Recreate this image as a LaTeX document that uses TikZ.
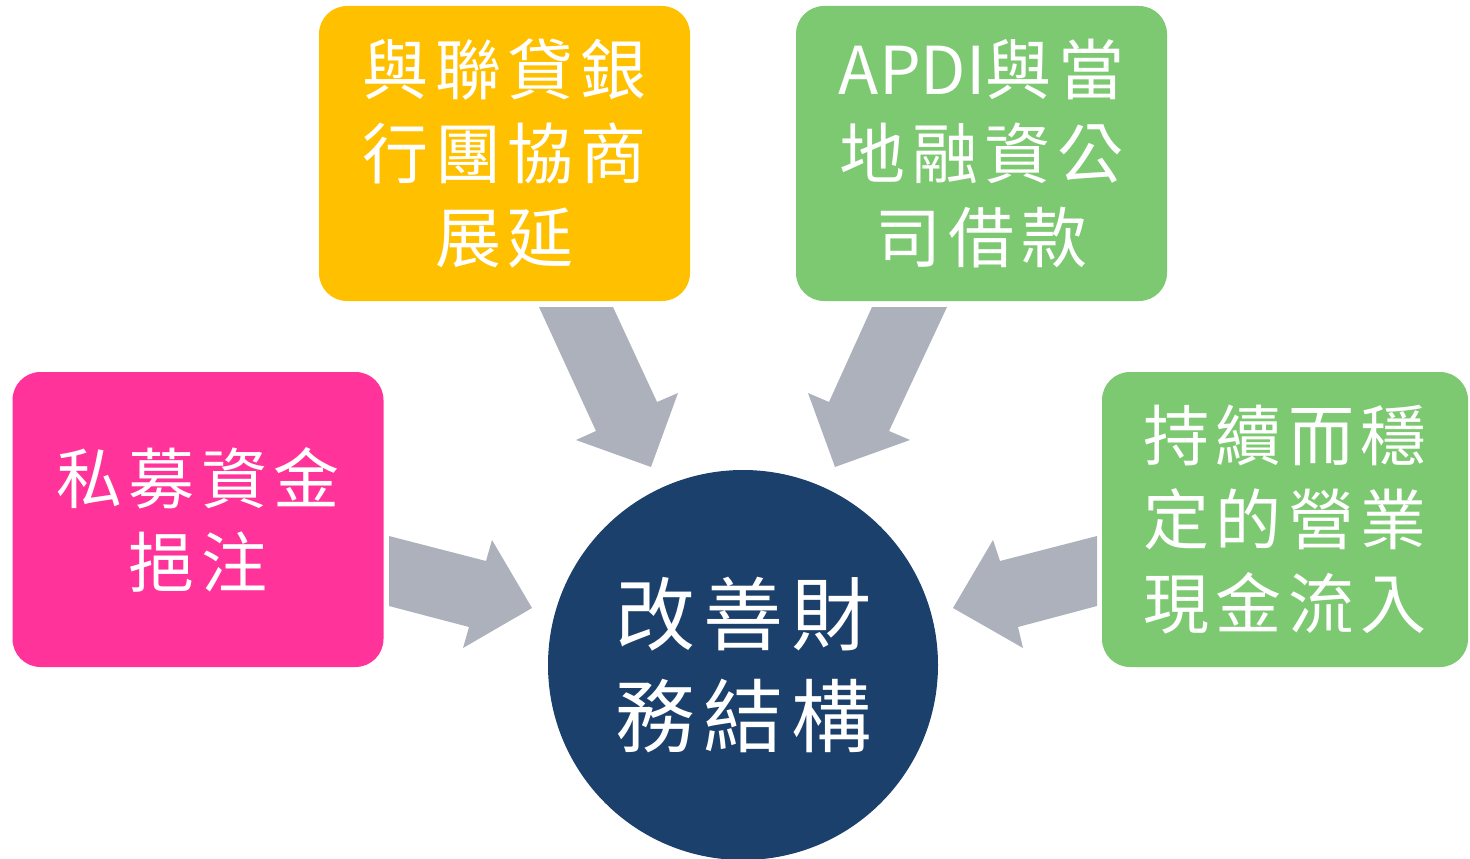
\documentclass[tikz,border=0pt]{standalone}
\usepackage{fontspec}
\newfontfamily\cjk[LetterSpace=10]{Noto Sans CJK TC}
\usetikzlibrary{positioning}
\definecolor{boxpink}{HTML}{FF3399}
\definecolor{boxyellow}{HTML}{FFC000}
\definecolor{boxgreen}{HTML}{7DC971}
\definecolor{hubblue}{HTML}{1B406C}
\definecolor{arrowgray}{HTML}{ADB1BC}
\tikzset{
  box/.style={rectangle, rounded corners=28pt, minimum width=371pt, minimum height=295pt,
    inner sep=0pt, align=center, text=white, font=\cjk\fontsize{66}{84}\selectfont},
  hub/.style={circle, fill=hubblue, minimum size=390pt, inner sep=0pt, align=center,
    text=white, font=\cjk\fontsize{80}{102}\selectfont},
  blockarrow/.style={fill=arrowgray}
}
\begin{document}
\begin{tikzpicture}[x=1pt, y=-1pt]
  \useasboundingbox (0,0) rectangle (1470,859);
  % boxes
  \node[box, fill=boxpink] (funding) at (198,519.5) {私募資金\\挹注};
  \node[box, fill=boxyellow] (syndicate) at (504.5,153.5) {與聯貸銀\\行團協商\\展延};
  \node[box, fill=boxgreen] (localloan) at (981.5,153.5) {{\addfontfeature{LetterSpace=0}APDI}與當\\地融資公\\司借款};
  \node[box, fill=boxgreen, minimum width=366pt] (cashflow) at (1285,519.5) {持續而穩\\定的營業\\現金流入};
  \node[hub] (structure) at (743,665) {改善財\\務結構};
  % block arrows
  \fill[blockarrow] (389,536) -- (486,561) -- (492,540) -- (532,608) -- (463,648) -- (469,627) -- (389,606) -- cycle;
  \fill[blockarrow] (539,307) -- (613,307) -- (657,402) -- (678,393) -- (651,467) -- (576,440) -- (596,431) -- cycle;
  \fill[blockarrow] (872,307) -- (947,307) -- (889,431) -- (910,440) -- (835,467) -- (808,393) -- (829,402) -- cycle;
  \fill[blockarrow] (1097,536) -- (1097,606) -- (1018,627) -- (1023,648) -- (953,608) -- (993,540) -- (1000,561) -- cycle;
\end{tikzpicture}
\end{document}
